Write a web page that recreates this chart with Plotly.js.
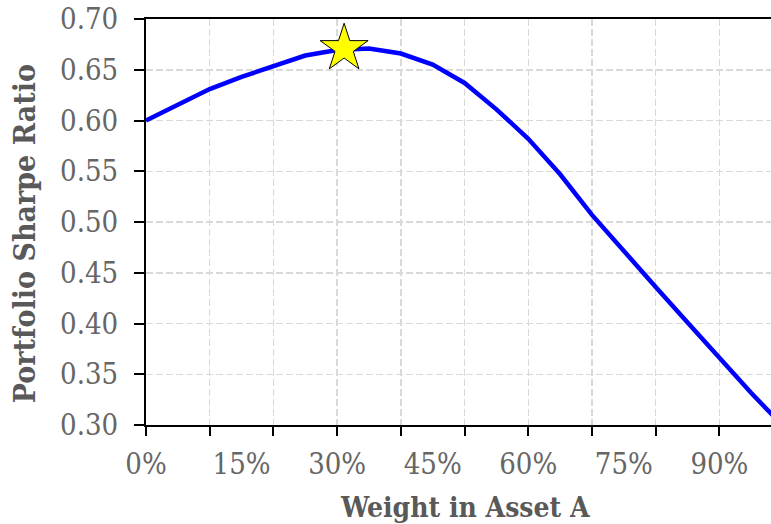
<!DOCTYPE html>
<html>
<head>
<meta charset="utf-8">
<script src="https://cdn.plot.ly/plotly-3.0.1.min.js"></script>
<style>html,body{margin:0;padding:0;background:#fff;}#chart{width:771px;height:524px;}</style>
</head>
<body>
<div id="chart"></div>
<script>
// Weight in Asset A (%)
var weights = [0,5,10,15,20,25,30,35,40,45,50,55,60,65,70,75,80,85,90,95,100];
// Portfolio Sharpe Ratio
var sharpe = [0.600,0.616,0.631,0.643,0.654,0.664,0.6695,0.671,0.666,0.655,0.637,0.611,0.582,0.547,0.507,0.471,0.436,0.401,0.3655,0.3315,0.299];
// Max Sharpe point
var maxW = [31.1];
var maxS = [0.671];
// x tick labels
var xLabelVals = [0,15,30,45,60,75,90];
var xLabelText = ["0%","15%","30%","45%","60%","75%","90%"];
var xTickVals = [0,10,20,30,40,50,60,70,80,90,100];

var FONT = "DejaVu Serif Condensed, DejaVu Serif, serif";

var traces = [
  {x: [0], y: [0.3], xaxis: 'x2', type: 'scatter', mode: 'markers', marker: {opacity: 0}, hoverinfo: 'skip'},
  {x: weights, y: sharpe, type: 'scatter', mode: 'lines',
   line: {color: '#0000ff', width: 4.5}, hoverinfo: 'skip'},
  {x: maxW, y: maxS, type: 'scatter', mode: 'markers',
   marker: {symbol: 'star', size: 36, color: '#ffff00', line: {color: '#000000', width: 1}},
   hoverinfo: 'skip', cliponaxis: false}
];

var layout = {
  width: 771, height: 524,
  margin: {l: 146, r: 0, t: 19, b: 99},
  paper_bgcolor: '#ffffff', plot_bgcolor: '#ffffff',
  showlegend: false,
  xaxis: {
    range: [0, 98.1], tickvals: xTickVals,
    showticklabels: false,
    ticks: 'outside', ticklen: 9, tickwidth: 2, tickcolor: '#000000',
    showline: true, linecolor: '#000000', linewidth: 2, mirror: true,
    showgrid: true, gridcolor: '#d9d9d9', gridwidth: 1.5, griddash: '7px,3px',
    zeroline: false, fixedrange: true
  },
  xaxis2: {
    overlaying: 'x', anchor: 'y', side: 'bottom',
    range: [0, 98.1], tickvals: xLabelVals, ticktext: xLabelText,
    ticks: 'outside', ticklen: 13, tickcolor: 'rgba(0,0,0,0)',
    showline: false, showgrid: false, zeroline: false,
    tickfont: {family: FONT, size: 29, color: '#666666'}, fixedrange: true
  },
  yaxis: {
    range: [0.30, 0.70], tick0: 0.30, dtick: 0.05, tickformat: '.2f',
    ticks: 'outside', ticklen: 10, tickwidth: 2, tickcolor: '#000000',
    showline: true, linecolor: '#000000', linewidth: 2,
    showgrid: true, gridcolor: '#d9d9d9', gridwidth: 1.5, griddash: '7px,3px',
    zeroline: false, ticklabelstandoff: 10,
    tickfont: {family: FONT, size: 29, color: '#666666'}, fixedrange: true
  },
  annotations: [
    {text: '<b>Weight in Asset A</b>', xref: 'paper', yref: 'paper', x: 0.5104, y: -0.202,
     xanchor: 'center', yanchor: 'middle', showarrow: false,
     font: {family: FONT, size: 28, color: '#595959'}},
    {text: '<b>Portfolio Sharpe Ratio</b>', xref: 'paper', yref: 'paper', x: -0.195, y: 0.47,
     xanchor: 'center', yanchor: 'middle', textangle: -90, showarrow: false,
     font: {family: FONT, size: 30, color: '#595959'}}
  ]
};

Plotly.newPlot('chart', traces, layout, {displayModeBar: false, staticPlot: true});
</script>
</body>
</html>
